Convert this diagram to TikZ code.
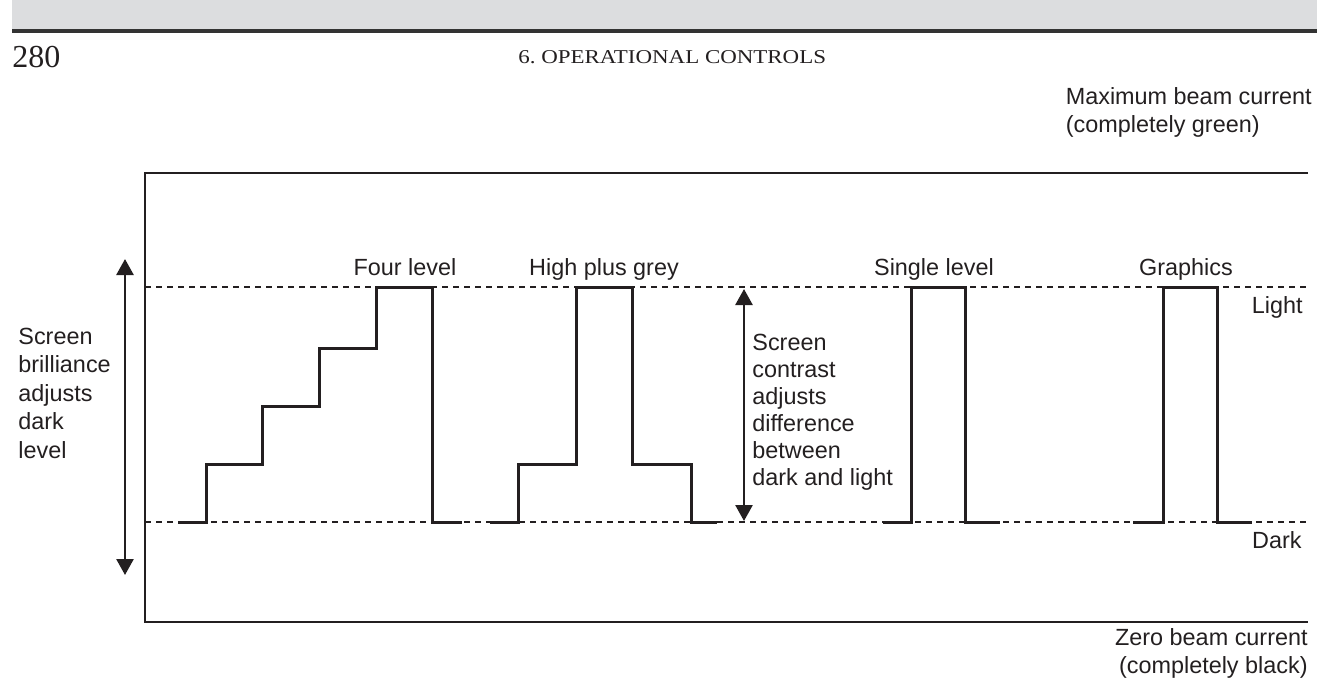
\documentclass[tikz,border=0pt]{standalone}
\usepackage{graphicx}
\usepackage{fontspec}
\setmainfont{Liberation Sans}
\newfontfamily\bookfont{Liberation Serif}
\usetikzlibrary{arrows.meta,positioning}
\definecolor{ink}{HTML}{231F20}
\definecolor{bandgray}{HTML}{DCDDDF}
\definecolor{rulegray}{HTML}{333333}

\tikzset{
  lbl/.style={inner sep=0pt,text=ink,font=\fontsize{11.7}{14}\selectfont},
  dashlevel/.style={draw=ink,line width=0.9pt,dash pattern=on 3pt off 2.5pt},
  frameline/.style={draw=ink,line width=1.1pt},
  wave/.style={draw=ink,line width=1.5pt,line join=miter},
  span/.style={draw=ink,line width=1.3pt,{Triangle[width=8.5pt,length=8pt]}-{Triangle[width=8.5pt,length=8pt]}}
}

\begin{document}
\begin{tikzpicture}[x=0.5pt,y=-0.5pt]
  \useasboundingbox (0,0) rectangle (1317,687);
  % page header
  \fill[bandgray] (12,0) rectangle (1317,29);
  \fill[rulegray] (12,29) rectangle (1317,33);
  \node[lbl,anchor=base west,font=\bookfont\fontsize{16}{18}\selectfont] (pagenum) at (12,67) {280};
  \node[lbl,anchor=base west,font=\bookfont\fontsize{9.8}{11}\selectfont] (runhead) at (518,63) {\scalebox{1.17}[1]{6.\ OPERATIONAL CONTROLS}};

  % frame and the two levels
  \coordinate (tl) at (145,173);
  \coordinate (tr) at (1308,173);
  \coordinate (bl) at (145,622);
  \coordinate (br) at (1308,622);
  \draw[frameline] (tr) -- (tl) -- (bl) -- (br);
  \coordinate (lightL) at (145,287);
  \coordinate (lightR) at (1308,287);
  \coordinate (darkL) at (145,522);
  \coordinate (darkR) at (1308,522);
  \draw[dashlevel] (lightL) -- (lightR);
  \draw[dashlevel] (darkL) -- (darkR);

  % waveforms
  \draw[wave] (178,522) -| (206,464) -| (262,406) -| (319,348) -| (376,287) -| (432,522) -- (462,522);
  \draw[wave] (490,522) -| (518,464) -| (576,287) -| (632,464) -| (691,522) -- (717,522);
  \draw[wave] (883,522) -| (911,287) -| (965,522) -- (1000,522);
  \draw[wave] (1133,522) -| (1163,287) -| (1217,522) -- (1252,522);

  % labels (multi-line ones sit on their last baseline)
  \node[lbl,anchor=base] (fourlbl) at (405,275) {Four level};
  \node[lbl,anchor=base] (hpglbl) at (604,275) {High plus grey};
  \node[lbl,anchor=base] (singlelbl) at (934,275) {Single level};
  \node[lbl,anchor=base] (graphlbl) at (1186,275) {Graphics};
  \node[lbl,anchor=base east] (lightlbl) at (1303,313) {Light};
  \node[lbl,anchor=base east] (darklbl) at (1302,548) {Dark};
  \node[lbl,anchor=base east,align=left] (maxlbl) at (1312,132) {Maximum beam current\\(completely green)};
  \node[lbl,anchor=base east,align=right] (zerolbl) at (1308,673) {Zero beam current\\(completely black)};
  \node[lbl,anchor=base west,align=left,font=\fontsize{11.7}{14.25}\selectfont] (brilltext) at (18,458) {Screen\\brilliance\\adjusts\\dark\\level};
  \node[lbl,anchor=base west,align=left,font=\fontsize{11.7}{13.45}\selectfont] (contrtext) at (752,485) {Screen\\contrast\\adjusts\\difference\\between\\dark and light};

  % adjustment arrows
  \coordinate (brtop) at (125,259);
  \coordinate (brbot) at (125,575);
  \draw[span] (brtop) -- (brbot);
  \coordinate (cttop) at (744,289);
  \coordinate (ctbot) at (744,521);
  \draw[span] (cttop) -- (ctbot);
\end{tikzpicture}
\end{document}
